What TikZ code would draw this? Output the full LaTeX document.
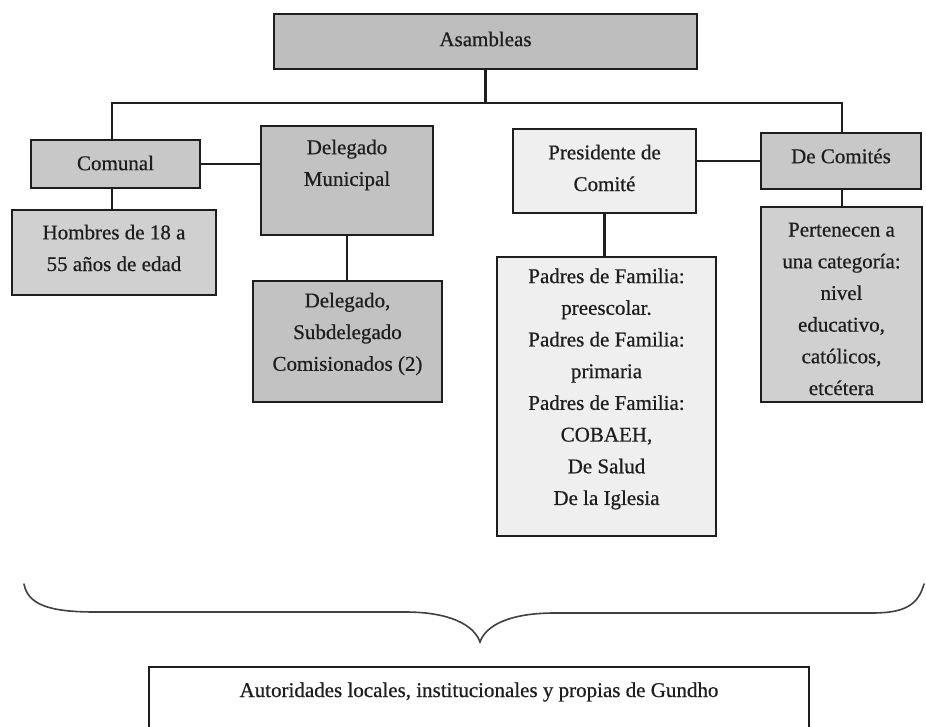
\documentclass[tikz,border=0pt]{standalone}
\usepackage{fontspec}
\setmainfont{Liberation Serif}[FakeBold=0.6]
\definecolor{ink}{HTML}{1E1E1E}
\definecolor{gA}{HTML}{BEBEBE}
\definecolor{gB}{HTML}{C8C8C8}
\definecolor{gC}{HTML}{D0D0D0}
\definecolor{gD}{HTML}{C2C2C2}
\definecolor{gL}{HTML}{EFEFEF}
\tikzset{
  box/.style={draw=ink, line width=2.4pt, rectangle, inner sep=0pt},
  txt/.style={align=center, text=ink, inner sep=0pt, font=\fontsize{21}{31.7}\selectfont},
  conn/.style={draw=ink, line width=2.2pt},
  bracestyle/.style={draw=ink!85, line width=1.6pt, line cap=round}
}
\begin{document}
\begin{tikzpicture}[x=1pt,y=-1pt]
\useasboundingbox (0,0) rectangle (926,727);
\clip (0,0) rectangle (926,727);
% boxes
\node[box, fill=gA, minimum width=423pt, minimum height=55pt] (asm) at (485.5,41.5) {};
\node[txt] (asmt) at (485.5,39) {Asambleas};
\node[box, fill=gB, minimum width=169pt, minimum height=48pt] (com) at (115.5,164) {};
\node[txt] (comt) at (115.5,163) {Comunal};
\node[box, fill=gD, minimum width=172pt, minimum height=109pt] (dm) at (347,180.5) {};
\node[txt] (dmt) at (347,165) {Delegado\\Municipal};
\node[box, fill=gC, minimum width=204pt, minimum height=85pt] (hom) at (114,252.5) {};
\node[txt] (homt) at (114,248) {Hombres de 18 a\\55 años de edad};
\node[box, fill=gD, minimum width=189pt, minimum height=121pt] (dsub) at (347.5,341.5) {};
\node[txt] (dsubt) at (347.5,334) {Delegado,\\Subdelegado\\Comisionados (2)};
\node[box, fill=gL, minimum width=183pt, minimum height=84pt] (pres) at (604.5,171) {};
\node[txt] (prest) at (604.5,168) {Presidente de\\Comité};
\node[box, fill=gL, minimum width=219pt, minimum height=279pt] (pad) at (606.5,396.5) {};
\node[txt] (padt) at (606.5,389) {Padres de Familia:\\preescolar.\\Padres de Familia:\\primaria\\Padres de Familia:\\COBAEH,\\De Salud\\De la Iglesia};
\node[box, fill=gB, minimum width=160pt, minimum height=56pt] (dc) at (841,161) {};
\node[txt] (dct) at (841,156) {De Comités};
\node[box, fill=gC, minimum width=161pt, minimum height=195pt] (pert) at (841.5,304.5) {};
\node[txt] (pertt) at (841.5,309) {Pertenecen a\\una categoría:\\nivel\\educativo,\\católicos,\\etcétera};
\node[box, fill=white, line width=1.8pt, minimum width=660pt, minimum height=100pt] (bot) at (479,717) {};
\node[txt] (bott) at (479,692) {Autoridades locales, institucionales y propias de Gundho};
% connectors
\coordinate (barL) at (112,103);
\coordinate (barR) at (842,103);
\draw[conn] (asm.south) -- (asm.south |- barL);
\draw[conn] (com.north -| barL) -- (barL) -- (barR) -- (dc.north -| barR);
\draw[conn] (com.east) -- (com.east -| dm.west);
\draw[conn] (dc.west -| pres.east) -- (dc.west);
\draw[conn] (com.south -| barL) -- (hom.north -| barL);
\draw[conn] (dm.south) -- (dsub.north -| dm.south);
\draw[conn] (pres.south) -- (pres.south |- pad.north);
\draw[conn] (dc.south -| barR) -- (pert.north -| barR);
% brace
\draw[bracestyle] (24,584) .. controls (28,605) and (50,612) .. (95,612) -- (405,612) .. controls (450,612) and (474,625) .. (480,642) .. controls (486,625) and (510,613) .. (555,613) -- (872,613) .. controls (905,613) and (918,605) .. (924,584);
\end{tikzpicture}
\end{document}
